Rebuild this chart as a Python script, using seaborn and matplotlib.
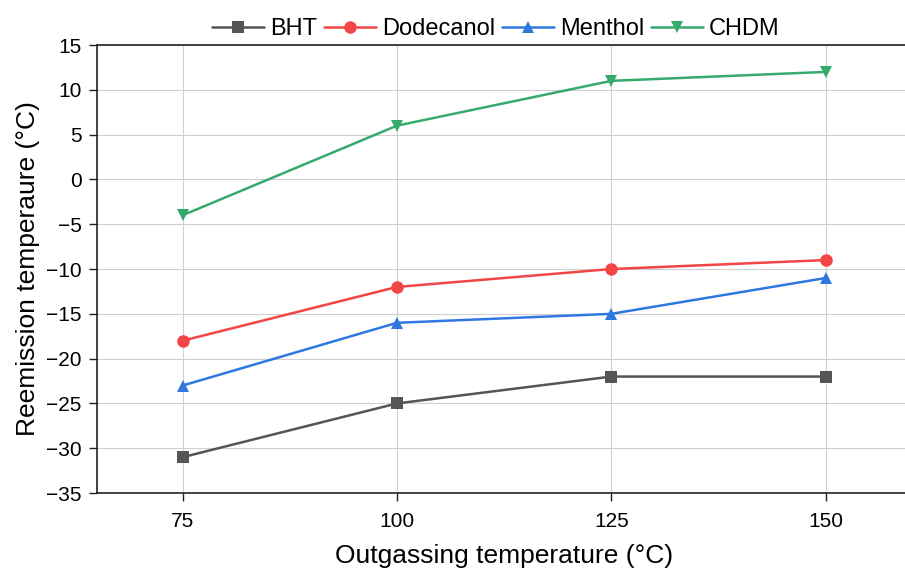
import numpy as np
import pandas as pd
import seaborn as sns
import matplotlib
matplotlib.use("Agg")
import matplotlib.pyplot as plt

# data
temps = [75, 100, 125, 150]
bht = [-31, -25, -22, -22]
dodecanol = [-18, -12, -10, -9]
menthol = [-23, -16, -15, -11]
chdm = [-4, 6, 11, 12]

names = ["BHT", "Dodecanol", "Menthol", "CHDM"]
colors = ["#555555", "#f24545", "#2f78e0", "#35aa6c"]
markers = ["s", "o", "^", "v"]

df = pd.DataFrame({
    "temp": temps * 4,
    "value": bht + dodecanol + menthol + chdm,
    "sample": sum([[n] * len(temps) for n in names], []),
})

sns.set_theme(style="ticks")
plt.rcParams["font.family"] = ["Liberation Sans", "DejaVu Sans"]
plt.rcParams["text.color"] = "black"
plt.rcParams["axes.labelcolor"] = "black"
plt.rcParams["xtick.color"] = "black"
plt.rcParams["ytick.color"] = "black"

fig = plt.figure(figsize=(9.05, 5.7), dpi=100)
ax = fig.add_axes([0.107, 0.135, 0.90, 0.786])

sns.lineplot(data=df, x="temp", y="value", hue="sample", style="sample",
             palette=dict(zip(names, colors)), markers=dict(zip(names, markers)),
             dashes=False, markersize=9, linewidth=1.8, markeredgewidth=0,
             ax=ax)

ax.set_xlim(65, 160)
ax.set_ylim(-35, 15)
ax.set_xticks(temps)
ax.set_yticks(np.arange(-35, 16, 5))
ax.grid(True, color="#d0d0d0", linewidth=0.8)
ax.set_axisbelow(True)
for s in ["top", "bottom", "left"]:
    ax.spines[s].set_color("#222222")
    ax.spines[s].set_linewidth(1.2)
ax.spines["right"].set_visible(False)
ax.tick_params(axis="both", labelsize=15, length=6, width=1.0, color="#222222",
               direction="out", pad=5)
ax.tick_params(axis="x", pad=8)
ax.set_xlabel("Outgassing temperature (°C)", fontsize=19, labelpad=9)
ax.set_ylabel("Reemission temperaure (°C)", fontsize=19, labelpad=4)

ax.legend(loc="lower center", bbox_to_anchor=(0.49, 0.99), ncol=4, frameon=False,
          fontsize=17, handlelength=2.2, handletextpad=0.25, columnspacing=0.3,
          borderaxespad=0)

fig.savefig("out.png", dpi=100)
